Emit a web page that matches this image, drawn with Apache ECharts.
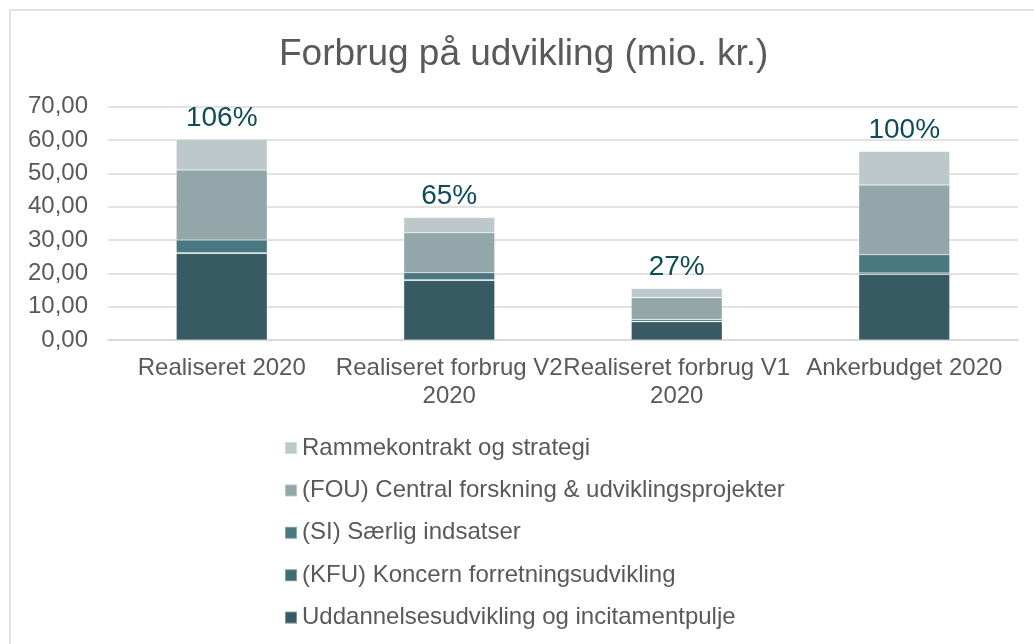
<!DOCTYPE html>
<html>
<head>
<meta charset="utf-8">
<script src="https://cdn.jsdelivr.net/npm/echarts@6/dist/echarts.min.js"></script>
<style>
  html, body { margin: 0; padding: 0; background: #fff; }
  #chart { width: 1034px; height: 644px; }
</style>
</head>
<body>
<div id="chart"></div>
<script>
// kategorier (x-akse)
const categories = ['Realiseret 2020', 'Realiseret forbrug V2 2020', 'Realiseret forbrug V1 2020', 'Ankerbudget 2020']

// serier (mio. kr.)
const uddannelse = [26.0, 17.9, 5.5, 19.7]
const kfu = [0.2, 0.2, 0.1, 0.4]
const si = [3.8, 2.1, 0.6, 5.5]
const fou = [21.0, 12.0, 6.5, 20.9]
const rammekontrakt = [9.2, 4.6, 2.8, 10.1]

// procent-labels over søjlerne
const pctLabels = ['106%', '65%', '27%', '100%']

const yTicks = [0, 10, 20, 30, 40, 50, 60, 70]

const font = "'Liberation Sans', Arial, sans-serif"
const grey = '#595959'

const chart = echarts.init(document.getElementById('chart'))

function bar(name, data, color, extra) {
  return Object.assign({
    name: name,
    type: 'bar',
    stack: 'total',
    data: data,
    barWidth: '40%',
    itemStyle: { color: color, borderColor: 'rgba(255,255,255,0.35)', borderWidth: 0.6 }
  }, extra || {})
}

const option = {
  animation: false,
  textStyle: { fontFamily: font },
  graphic: [
    {
      type: 'rect',
      shape: { x: 10, y: 10, width: 1100, height: 1000 },
      style: { fill: 'none', stroke: '#d9d9d9', lineWidth: 1.5 },
      silent: true
    }
  ],
  title: {
    text: 'Forbrug på udvikling (mio. kr.)',
    left: 279,
    top: 36,
    padding: 0,
    textStyle: { fontFamily: font, fontSize: 37, fontWeight: 'normal', color: grey }
  },
  legend: {
    orient: 'vertical',
    left: 284,
    top: 436,
    padding: 0,
    itemWidth: 12,
    itemHeight: 12,
    itemGap: 18.4,
    icon: 'rect',
    data: [
      'Rammekontrakt og strategi',
      '(FOU) Central forskning & udviklingsprojekter',
      '(SI) Særlig indsatser',
      '(KFU) Koncern forretningsudvikling',
      'Uddannelsesudvikling og incitamentpulje'
    ],
    textStyle: { fontFamily: font, fontSize: 24, color: grey, lineHeight: 24 }
  },
  grid: { left: 108, right: 16, top: 106.7, bottom: 304 },
  xAxis: {
    type: 'category',
    data: categories,
    axisTick: { show: false },
    axisLine: { lineStyle: { color: '#d9d9d9', width: 1.5 } },
    axisLabel: {
      margin: 14,
      fontFamily: font,
      fontSize: 24,
      color: grey,
      lineHeight: 28,
      interval: 0,
      formatter: function (v) {
        return v.length > 16 ? v.replace(' 2020', '\n2020') : v
      }
    }
  },
  yAxis: {
    type: 'value',
    min: yTicks[0],
    max: yTicks[yTicks.length - 1],
    interval: 10,
    axisLine: { show: false },
    axisTick: { show: false },
    splitLine: { lineStyle: { color: '#d9d9d9', width: 1.5 } },
    axisLabel: {
      margin: 20,
      fontFamily: font,
      fontSize: 24,
      color: grey,
      formatter: function (v) { return v.toFixed(2).replace('.', ',') }
    }
  },
  series: [
    bar('Uddannelsesudvikling og incitamentpulje', uddannelse, '#385a62'),
    bar('(KFU) Koncern forretningsudvikling', kfu, '#426c74'),
    bar('(SI) Særlig indsatser', si, '#4a7881'),
    bar('(FOU) Central forskning & udviklingsprojekter', fou, '#93a6aa'),
    bar('Rammekontrakt og strategi', rammekontrakt, '#bcc8c9', {
      label: {
        show: true,
        position: 'top',
        distance: 7,
        fontFamily: font,
        fontSize: 28,
        color: '#0f4c5a',
        formatter: function (p) { return pctLabels[p.dataIndex] }
      }
    })
  ]
}

chart.setOption(option)
</script>
</body>
</html>
